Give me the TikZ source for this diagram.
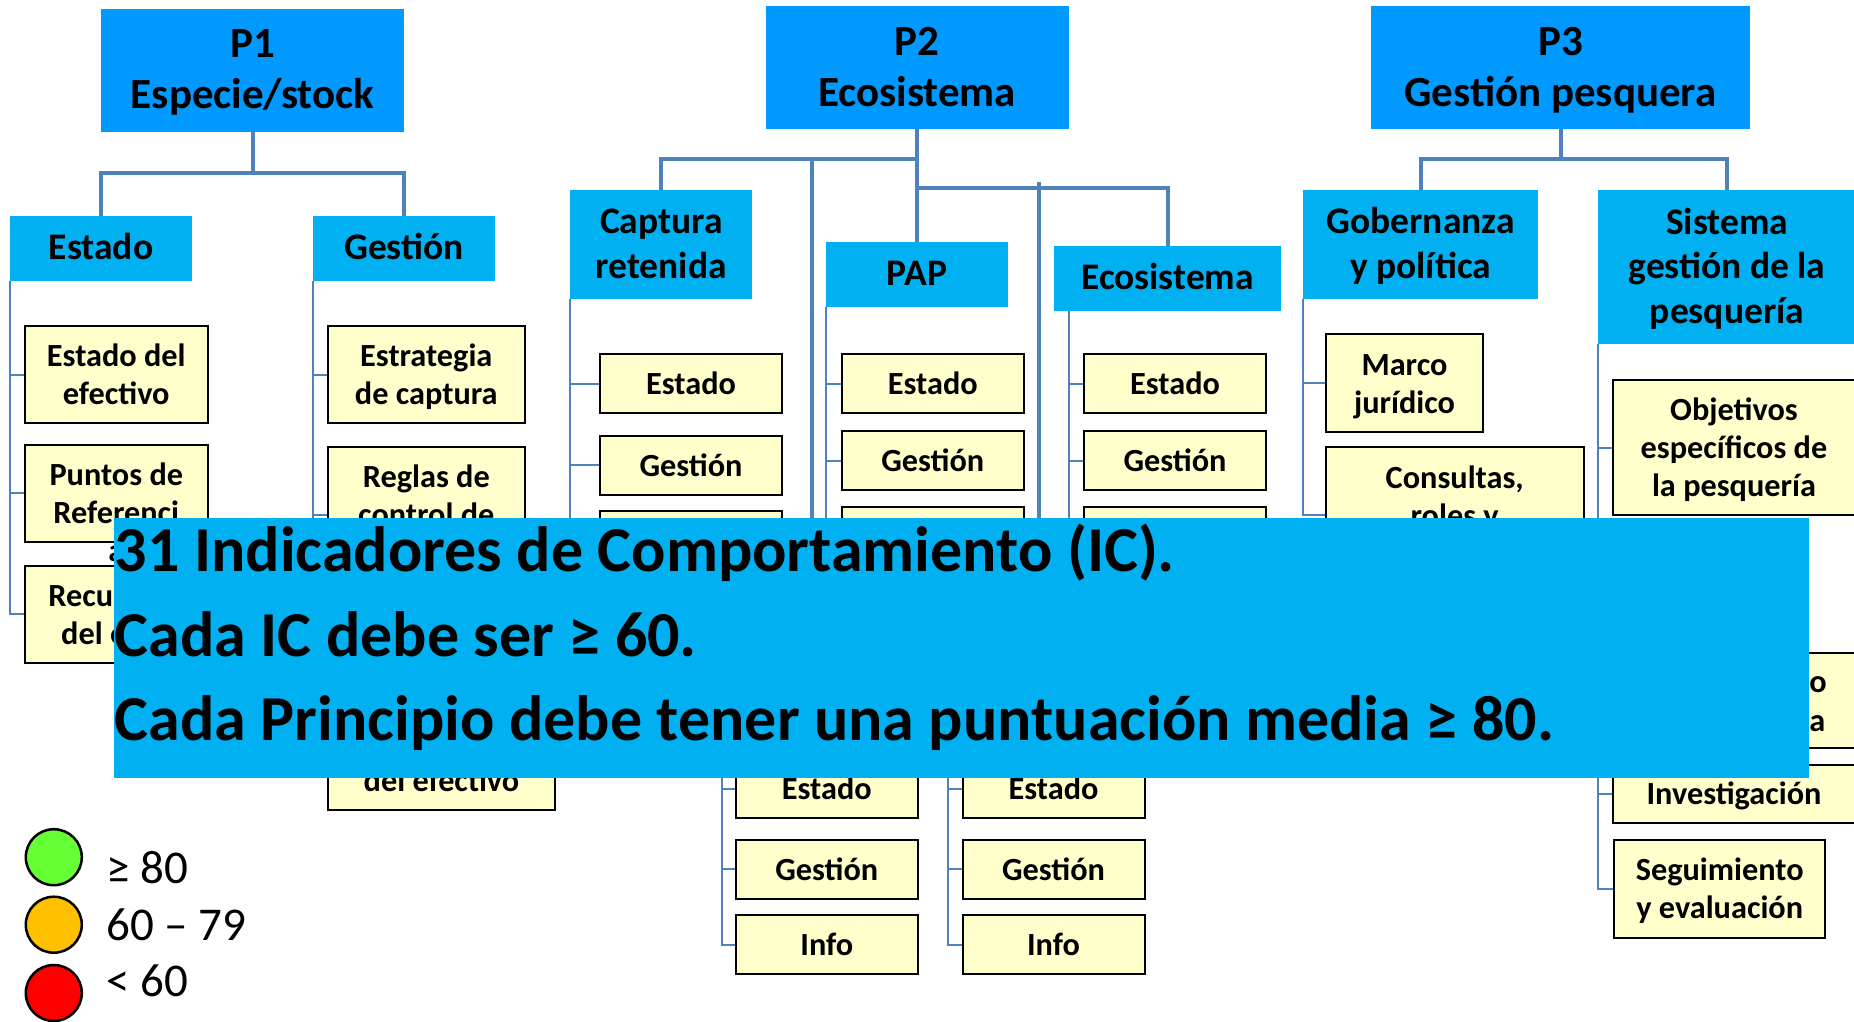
\documentclass[tikz,border=0pt]{standalone}
\usepackage{fontspec}
\setmainfont{Carlito}
\definecolor{princblue}{HTML}{0099FF}
\definecolor{compblue}{HTML}{00B0F0}
\definecolor{linkblue}{HTML}{4F81BD}
\definecolor{pifill}{HTML}{FFFFCC}
\definecolor{okgreen}{HTML}{66FF33}
\definecolor{midorange}{HTML}{FFC000}
\definecolor{lowred}{HTML}{FF0000}
% first line strut, so every box sets its lines at the same height
\newcommand{\firstln}{\rule{0pt}{0.95em}}
\tikzset{
  princ/.style={fill=princblue, inner sep=0pt, minimum width=303pt, minimum height=123pt,
                align=center, font=\fontsize{43}{51}\selectfont\bfseries,
                execute at end node=\rule[-14.85pt]{0pt}{14.85pt}},
  comp/.style={fill=compblue, inner sep=0pt, minimum width=182pt, minimum height=65pt,
               align=center, font=\fontsize{37.5}{44.5}\selectfont\bfseries,
               execute at end node=\rule[-12.6pt]{0pt}{12.6pt}},
  pibox/.style={draw=black, line width=2pt, fill=pifill, inner sep=0pt, minimum width=182pt,
                minimum height=59pt, align=center, font=\fontsize{32.3}{38.3}\selectfont\bfseries,
                execute at end node=\rule[-8.7pt]{0pt}{8.7pt}},
  piline/.style={anchor=base, inner sep=0pt, font=\fontsize{32.3}{38.3}\selectfont\bfseries},
  trunk/.style={linkblue, line width=4pt},
  branch/.style={linkblue, line width=2pt},
  notebox/.style={fill=compblue, inner sep=0pt},
  noteline/.style={anchor=base west, inner sep=0pt, font=\fontsize{64}{84}\selectfont\bfseries},
  legdot/.style={circle, draw=black, line width=2.5pt, minimum size=56pt, inner sep=0pt},
  legtext/.style={anchor=base west, inner sep=0pt, font=\fontsize{47}{56}\selectfont},
}
\begin{document}
\begin{tikzpicture}[x=1pt,y=-1pt]
  \useasboundingbox (0,0) rectangle (1854,1021);

  % principles
  \node[princ] (p1) at (252.5,70) {\firstln P1\\Especie/stock};
  \node[princ] (p2) at (917,67.5) {\firstln P2\\Ecosistema};
  \node[princ, minimum width=379pt] (p3) at (1560.5,67.5) {\firstln P3\\Gestión pesquera};

  % components
  \node[comp] (p1est) at (101,248.4) {\firstln Estado};
  \node[comp] (p1ges) at (404,248.4) {\firstln Gestión};
  \node[comp, minimum height=109pt] (p2cap) at (661.3,244.7) {\firstln Captura\\retenida};
  \node[comp] (p2pap) at (917,274.4) {\firstln PAP};
  \node[comp, minimum width=227pt] (p2eco) at (1167.6,278.4) {\firstln Ecosistema};
  \node[comp, minimum width=235pt, minimum height=109pt] (p3gob) at (1420.6,244.7) {\firstln Gobernanza\\y política};
  \node[comp, minimum width=258pt, minimum height=154pt] (p3sis) at (1727,267.2) {\firstln Sistema\\gestión de la\\pesquería};

  % trunk lines
  \coordinate (p1bus) at (252.5,173.3);
  \draw[trunk] (p1.south) -- (p1bus);
  \draw[trunk] (p1est.north) |- (p1bus) -| (p1ges.north);

  \coordinate (p2busa) at (917,159.3);
  \coordinate (p2busb) at (917,187.7);
  \coordinate (p2hida) at (811.5,159.3);
  \coordinate (p2hidaend) at (811.5,700);
  \coordinate (p2hidb) at (1038.5,182);
  \coordinate (p2hidbend) at (1038.5,700);
  \draw[trunk] (p2.south) -- (p2pap.north);
  \draw[trunk] (p2cap.north) |- (p2busa);
  \draw[trunk] (p2busb) -| (p2eco.north);
  \draw[trunk] (p2hida) -- (p2hidaend);
  \draw[trunk] (p2hidb) -- (p2hidbend);

  \coordinate (p3bus) at (1560.5,159.3);
  \draw[trunk] (p3.south) -- (p3bus);
  \draw[trunk] (p3gob.north) |- (p3bus) -| (p3sis.north);

  % P1 indicators
  \node[pibox, minimum width=183pt, minimum height=97.6pt] (p1e1) at (116.3,374.5) {\firstln Estado del\\efectivo};
  \node[pibox, minimum width=183pt, minimum height=97pt] (p1e2) at (116.3,493.2) {};
  \node[piline] (p1e2a) at (116.3,485) {Puntos de};
  \node[piline] (p1e2b) at (116.3,523.3) {Referenci};
  \node[piline] (p1e2c) at (116.3,561.6) {a};
  \node[pibox, minimum width=228pt, minimum height=97pt] (p1e3) at (139,614.2) {\firstln Recuperación\\del efectivo};
  \node[pibox, minimum width=197pt, minimum height=97.6pt] (p1g1) at (426.3,374.5) {\firstln Estrategia\\de captura};
  \node[pibox, minimum width=197pt, minimum height=137pt] (p1g2) at (426.3,515) {};
  \node[piline] (p1g2a) at (426.3,487.3) {Reglas de};
  \node[piline] (p1g2b) at (426.3,525.6) {control de};
  \node[pibox, minimum width=227.4pt, minimum height=98pt] (p1g3) at (441.5,761) {};
  \node[piline] (p1g3a) at (441.5,791.7) {del efectivo};
  \foreach \k in {p1e1,p1e2,p1e3} \draw[branch] (p1est.south west) |- (\k.west);
  \foreach \k in {p1g1,p1g2,p1g3} \draw[branch] (p1ges.south west) |- (\k.west);

  % P2 indicators
  \node[pibox] (p2c1) at (691,383.7) {\firstln Estado};
  \node[pibox] (p2c2) at (691,465.3) {\firstln Gestión};
  \node[pibox] (p2c3) at (691,540) {};
  \node[pibox] (p2p1) at (932.8,383.7) {\firstln Estado};
  \node[pibox] (p2p2) at (932.8,460.8) {\firstln Gestión};
  \node[pibox] (p2p3) at (932.8,536.6) {};
  \node[pibox] (p2e1) at (1175,383.7) {\firstln Estado};
  \node[pibox] (p2e2) at (1175,460.8) {\firstln Gestión};
  \node[pibox] (p2e3) at (1175,536.6) {};
  \node[pibox] (p2a1) at (826.8,788.7) {\firstln Estado};
  \node[pibox] (p2a2) at (826.8,869.2) {\firstln Gestión};
  \node[pibox] (p2a3) at (826.8,944.9) {\firstln Info};
  \node[pibox] (p2b1) at (1053.5,788.7) {\firstln Estado};
  \node[pibox] (p2b2) at (1053.5,869.2) {\firstln Gestión};
  \node[pibox] (p2b3) at (1053.5,944.9) {\firstln Info};
  \coordinate (p2ecobr) at (1068.7,310.7);
  \coordinate (p2grpa) at (722,700);
  \coordinate (p2grpb) at (948,700);
  \foreach \k in {p2c1,p2c2,p2c3} \draw[branch] (p2cap.south west) |- (\k.west);
  \foreach \k in {p2p1,p2p2,p2p3} \draw[branch] (p2pap.south west) |- (\k.west);
  \foreach \k in {p2e1,p2e2,p2e3} \draw[branch] (p2ecobr) |- (\k.west);
  \foreach \k in {p2a1,p2a2,p2a3} \draw[branch] (p2grpa) |- (\k.west);
  \foreach \k in {p2b1,p2b2,p2b3} \draw[branch] (p2grpb) |- (\k.west);

  % P3 indicators
  \node[pibox, minimum width=157.4pt, minimum height=98pt] (p3g1) at (1404.5,383.3) {\firstln Marco\\jurídico};
  \node[pibox, minimum width=257.7pt, minimum height=137pt] (p3g2) at (1454.7,515) {};
  \node[piline] (p3g2a) at (1454.7,488.3) {Consultas,};
  \node[piline] (p3g2b) at (1454.7,526.6) {roles y};
  \node[pibox, minimum width=242pt, minimum height=135pt] (p3s1) at (1734,447.5) {\firstln Objetivos\\específicos de\\la pesquería};
  \node[pibox, minimum width=242pt, minimum height=95.6pt] (p3s2) at (1734,700.5) {};
  \node[piline, anchor=base east] (p3s2a) at (1827,692.7) {to};
  \node[piline, anchor=base east] (p3s2b) at (1825.5,731) {a};
  \node[pibox, minimum width=242pt, minimum height=57.7pt] (p3s3) at (1734,793.8) {\firstln Investigación};
  \node[pibox, minimum width=211.4pt, minimum height=97.7pt] (p3s4) at (1719.7,888.8) {\firstln Seguimiento\\y evaluación};
  \foreach \k in {p3g1,p3g2} \draw[branch] (p3gob.south west) |- (\k.west);
  \foreach \k in {p3s1,p3s2,p3s3,p3s4} \draw[branch] (p3sis.south west) |- (\k.west);

  % overlay note
  \node[notebox, minimum width=1694.7pt, minimum height=260pt] (ics) at (961.25,648.3) {};
  \node[noteline] (ics1) at (114.7,571.7) {31 Indicadores de Comportamiento (IC).};
  \node[noteline] (ics2) at (114.7,656.7) {Cada IC debe ser ≥ 60.};
  \node[noteline] (ics3) at (114.7,740) {Cada Principio debe tener una puntuación media ≥ 80.};

  % legend
  \node[legdot, fill=okgreen] (leg80) at (53.8,857.2) {};
  \node[legdot, fill=midorange] (leg60) at (53.8,924.7) {};
  \node[legdot, fill=lowred] (leg0) at (53.8,993) {};
  \node[legtext] (leg80t) at (106,883.3) {≥ 80};
  \node[legtext] (leg60t) at (106,940) {60 – 79};
  \node[legtext] (leg0t) at (106,996.7) {< 60};
\end{tikzpicture}
\end{document}
